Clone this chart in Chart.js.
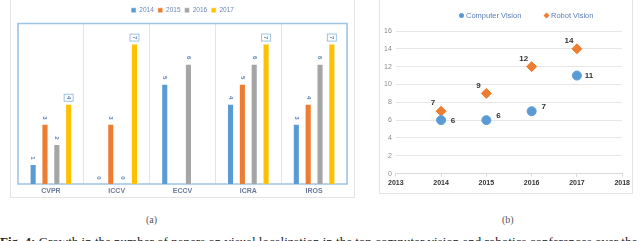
<!DOCTYPE html>
<html lang="en">
<head>
    <meta charset="UTF-8">
    <title>Conference papers</title>
    <script src="https://cdn.jsdelivr.net/npm/chart.js"></script>
    <style>
        body {
            margin: 0;
            background: #ffffff;
            width: 640px;
            height: 241px;
            overflow: hidden;
            position: relative;
            font-family: 'Liberation Serif', serif;
        }
        .card {
            position: absolute;
            border: 1px solid #e4e4e4;
            box-sizing: border-box;
        }
        .card canvas {
            position: absolute;
            left: 0;
            top: 0;
        }
        .sub {
            position: absolute;
            top: 214px;
            font-size: 10px;
            color: #555;
        }
        .caption {
            position: absolute;
            left: 0;
            top: 234px;
            font-size: 13px;
            white-space: nowrap;
            color: #222;
        }
        .legendB {
            position: absolute;
            top: 11px;
            font: 7.5px 'Liberation Sans', sans-serif;
            color: #5b7fb8;
            white-space: nowrap;
        }
        .legendB i {
            display: inline-block;
            width: 5px;
            height: 5px;
            margin-right: 2px;
            vertical-align: 0px;
        }
    </style>
</head>
<body>

    <div class="card" id="cardA" style="left:10px; top:-1px; width:345px; height:199px;">
        <canvas id="barChart" width="343" height="199"></canvas>
    </div>
    <div class="card" id="cardB" style="left:379px; top:-1px; width:254px; height:195px;">
        <canvas id="scatterChart" width="252" height="193"></canvas>
    </div>
    <div class="legendB" style="left:459px;"><i style="background:#5B9BD5; border-radius:50%;"></i>Computer Vision</div>
    <div class="legendB" style="left:544px;"><i style="background:#ED7D31; transform:rotate(45deg) scale(0.85);"></i>Robot Vision</div>

    <div class="sub" style="left:146px;">(a)</div>
    <div class="sub" style="left:502px;">(b)</div>
    <div class="caption"><b>Fig. 4:</b> Growth in the number of papers on visual localization in the top computer vision and robotics conferences over the years</div>

    <script>
        // Bar chart data (a)
        const conferences = ['CVPR', 'ICCV', 'ECCV', 'ICRA', 'IROS'];
        const years = ['2014', '2015', '2016', '2017'];
        const papers2014 = [1, 0, 5, 4, 3];
        const papers2015 = [3, 3, null, 5, 4];
        const papers2016 = [2, 0, 6, 6, 6];
        const papers2017 = [4, 7, null, 7, 7];
        const barColors = ['#5B9BD5', '#ED7D31', '#A5A5A5', '#FFC000'];

        // Scatter data (b)
        const scatterYears = [2014, 2015, 2016, 2017];
        const computerVision = [6, 6, 7, 11];
        const robotVision = [7, 9, 12, 14];

        // frame round the plot area of (a)
        const framePlugin = {
            id: 'frame',
            beforeDatasetsDraw(chart) {
                const a = chart.chartArea;
                const c = chart.ctx;
                c.save();
                c.strokeStyle = '#9DC3E6';
                c.lineWidth = 1.5;
                c.strokeRect(a.left, a.top, a.right - a.left, a.bottom - a.top);
                c.restore();
            }
        };

        // rotated value labels above bars
        const barLabels = {
            id: 'barLabels',
            afterDatasetsDraw(chart) {
                const c = chart.ctx;
                c.save();
                c.font = 'bold 6px "Liberation Sans", sans-serif';
                c.fillStyle = '#5b7fb8';
                c.textAlign = 'center';
                c.textBaseline = 'middle';
                chart.data.datasets.forEach((ds, i) => {
                    chart.getDatasetMeta(i).data.forEach((bar, j) => {
                        const v = ds.data[j];
                        if (v === null) return;
                        const x = bar.x, y = bar.y - 6;
                        if (i === 3) {
                            c.strokeStyle = '#9DC3E6';
                            c.lineWidth = 1;
                            c.fillStyle = '#ffffff';
                            c.fillRect(x - 4.5, y - 3.5, 9, 7);
                            c.strokeRect(x - 4.5, y - 3.5, 9, 7);
                            c.fillStyle = '#5b7fb8';
                        }
                        c.save();
                        c.translate(x, y);
                        c.rotate(Math.PI / 2);
                        c.fillText(String(v), 0, 0);
                        c.restore();
                    });
                });
                c.restore();
            }
        };

        const allSeries = [papers2014, papers2015, papers2016, papers2017];

        new Chart(document.getElementById('barChart'), {
            type: 'bar',
            data: {
                labels: conferences,
                datasets: years.map((y, i) => ({
                    label: y,
                    data: allSeries[i],
                    backgroundColor: barColors[i],
                    borderColor: 'rgba(255,255,255,0.5)',
                    borderWidth: 1,
                    categoryPercentage: 0.72,
                    barPercentage: 0.6
                }))
            },
            options: {
                responsive: false,
                animation: false,
                layout: { padding: { left: 7, right: 7, top: 3, bottom: 0 } },
                plugins: {
                    legend: {
                        position: 'top',
                        align: 'center',
                        labels: {
                            boxWidth: 5,
                            boxHeight: 5,
                            padding: 4,
                            color: '#6d88b5',
                            font: { size: 6.5, family: '"Liberation Sans", sans-serif' }
                        }
                    },
                    tooltip: { enabled: false }
                },
                scales: {
                    x: {
                        grid: { color: '#e4e4e4', drawTicks: false },
                        border: { display: false },
                        ticks: {
                            color: '#6b7a99',
                            padding: 4,
                            font: { size: 7, weight: 'bold', family: '"Liberation Sans", sans-serif', lineHeight: 1 }
                        }
                    },
                    y: {
                        display: false,
                        min: 0,
                        max: 8
                    }
                }
            },
            plugins: [framePlugin, barLabels]
        });

        // point labels for the scatter
        const pointLabels = {
            id: 'pointLabels',
            afterDatasetsDraw(chart) {
                const c = chart.ctx;
                c.save();
                c.font = 'bold 8px "Liberation Sans", sans-serif';
                c.fillStyle = '#333333';
                c.textAlign = 'center';
                c.textBaseline = 'middle';
                chart.data.datasets.forEach((ds, i) => {
                    chart.getDatasetMeta(i).data.forEach((pt, j) => {
                        const v = ds.data[j].y;
                        if (i === 0) {
                            const dy = j === 0 ? 1 : (j === 3 ? 0 : -4);
                            c.fillText(String(v), pt.x + 12, pt.y + dy);
                        } else {
                            c.fillText(String(v), pt.x - 8, pt.y - 8);
                        }
                    });
                });
                c.restore();
            }
        };

        new Chart(document.getElementById('scatterChart'), {
            type: 'scatter',
            data: {
                datasets: [
                    {
                        label: 'Computer Vision',
                        data: scatterYears.map((x, i) => ({ x: x, y: computerVision[i] })),
                        backgroundColor: '#5B9BD5',
                        borderColor: '#5B9BD5',
                        pointStyle: 'circle',
                        pointRadius: 4.5
                    },
                    {
                        label: 'Robot Vision',
                        data: scatterYears.map((x, i) => ({ x: x, y: robotVision[i] })),
                        backgroundColor: '#ED7D31',
                        borderColor: '#ED7D31',
                        pointStyle: 'rectRot',
                        pointRadius: 5
                    }
                ]
            },
            options: {
                responsive: false,
                animation: false,
                layout: { padding: { left: 0, right: 9, top: 31, bottom: 4 } },
                plugins: {
                    legend: { display: false },
                    tooltip: { enabled: false }
                },
                scales: {
                    x: {
                        type: 'linear',
                        min: 2013,
                        max: 2018,
                        ticks: {
                            stepSize: 1,
                            color: '#333333',
                            padding: 2,
                            font: { size: 7, weight: 'bold', family: '"Liberation Sans", sans-serif' },
                            callback: v => String(v)
                        },
                        grid: { display: true, drawOnChartArea: false, color: '#d9d9d9', tickLength: 3 },
                        border: { color: '#d9d9d9' }
                    },
                    y: {
                        min: 0,
                        max: 16,
                        ticks: {
                            stepSize: 2,
                            color: '#8c8c8c',
                            padding: 4,
                            font: { size: 7, family: '"Liberation Sans", sans-serif' }
                        },
                        grid: { color: '#e6e6e6', drawTicks: false },
                        border: { display: false }
                    }
                }
            },
            plugins: [pointLabels]
        });
    </script>

</body>
</html>
